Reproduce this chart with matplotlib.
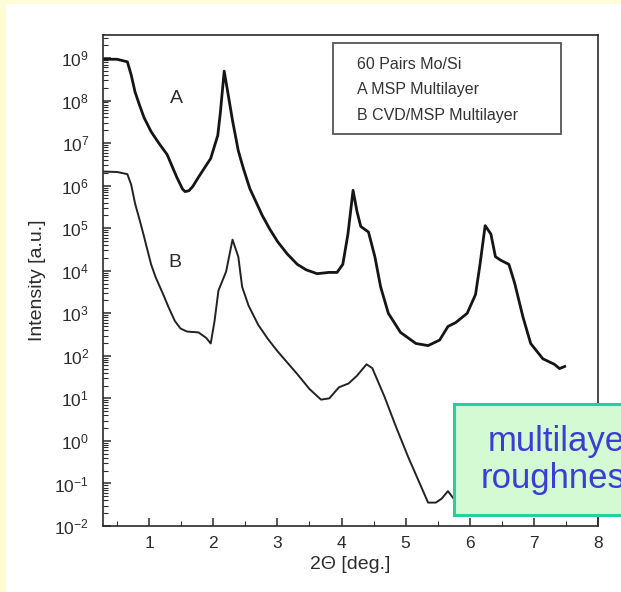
import matplotlib
matplotlib.use("Agg")
import matplotlib.pyplot as plt
from matplotlib.patches import Rectangle
from matplotlib.ticker import LogLocator, FuncFormatter, MultipleLocator, NullFormatter
import numpy as np

plt.rcParams['font.family'] = ['Liberation Sans', 'DejaVu Sans']
plt.rcParams['mathtext.default'] = 'regular'

# curve A: MSP multilayer (2theta in deg, log10 intensity)
a_x = [0.30, 0.50, 0.66, 0.72, 0.78, 0.85, 0.92, 1.03, 1.15, 1.28, 1.43, 1.52, 1.56,
       1.62, 1.68, 1.77, 1.96, 2.07, 2.11, 2.17, 2.23, 2.30, 2.39, 2.47, 2.57, 2.76,
       2.88, 3.00, 3.15, 3.31, 3.45, 3.62, 3.80, 3.93, 4.02, 4.10, 4.18, 4.24, 4.30,
       4.42, 4.52, 4.61, 4.73, 4.92, 5.16, 5.35, 5.53, 5.66, 5.78, 5.96, 6.09, 6.16,
       6.24, 6.33, 6.40, 6.49, 6.61, 6.70, 6.83, 6.95, 7.14, 7.32, 7.40, 7.48]
a_log = [8.97, 8.97, 8.91, 8.60, 8.20, 7.89, 7.60, 7.27, 7.00, 6.73, 6.20, 5.92, 5.86,
         5.88, 5.98, 6.20, 6.64, 7.18, 7.71, 8.69, 8.16, 7.53, 6.82, 6.40, 5.93, 5.31,
         4.98, 4.69, 4.40, 4.15, 4.02, 3.93, 3.96, 3.96, 4.15, 4.86, 5.89, 5.40, 5.04,
         4.91, 4.33, 3.62, 3.00, 2.55, 2.29, 2.24, 2.37, 2.69, 2.78, 3.00, 3.44, 4.15,
         5.06, 4.86, 4.33, 4.24, 4.15, 3.71, 2.91, 2.29, 1.93, 1.80, 1.70, 1.75]

# curve B: CVD/MSP multilayer
b_x = [0.30, 0.50, 0.66, 0.72, 0.78, 0.85, 0.91, 1.03, 1.10, 1.22, 1.30, 1.40, 1.49,
       1.59, 1.77, 1.89, 1.96, 2.02, 2.08, 2.20, 2.30, 2.39, 2.45, 2.55, 2.70, 2.85,
       3.00, 3.31, 3.50, 3.68, 3.81, 3.96, 4.11, 4.24, 4.39, 4.48, 4.67, 4.85, 5.04,
       5.22, 5.35, 5.47, 5.56, 5.66, 5.75]
b_log = [6.33, 6.32, 6.27, 6.02, 5.58, 5.20, 4.86, 4.15, 3.85, 3.44, 3.15, 2.82, 2.64,
         2.57, 2.55, 2.42, 2.29, 2.82, 3.53, 3.98, 4.73, 4.33, 3.62, 3.18, 2.73, 2.40,
         2.11, 1.57, 1.22, 0.97, 1.00, 1.26, 1.35, 1.53, 1.80, 1.71, 1.04, 0.33, -0.38,
         -1.00, -1.45, -1.45, -1.36, -1.18, -1.36]

legend_lines = ["60 Pairs Mo/Si", "A MSP Multilayer", "B CVD/MSP Multilayer"]

W, H = 621, 592
fig = plt.figure(figsize=(W / 100, H / 100), dpi=100, facecolor='#fffdd6')
fig.add_artist(Rectangle((6 / W, 0), 1, 1 - 4 / H, transform=fig.transFigure,
                         facecolor='white', edgecolor='none', zorder=-5))

ax = fig.add_axes([103 / W, 1 - 526 / H, (598 - 103) / W, (526 - 35) / H])
ink = '#2b2b2b'

ax.plot(a_x, 10 ** np.array(a_log), color='#151515', lw=2.0)
ax.plot(b_x, 10 ** np.array(b_log), color='#222222', lw=1.4)

ax.set_yscale('log')
ax.set_xlim(0.28, 8.0)
ax.set_ylim(1e-2, 10 ** 9.54)

ax.yaxis.set_major_locator(LogLocator(base=10, numticks=20))
ax.yaxis.set_minor_locator(LogLocator(base=10, subs=np.arange(2, 10), numticks=20))
ax.yaxis.set_major_formatter(FuncFormatter(lambda v, p: r'$10^{%d}$' % round(np.log10(v))))
ax.yaxis.set_minor_formatter(NullFormatter())
ax.xaxis.set_major_locator(MultipleLocator(1))
ax.xaxis.set_minor_locator(MultipleLocator(0.5))

ax.tick_params(which='both', direction='in', color=ink, labelcolor=ink, labelsize=12.5)
ax.tick_params(which='major', length=6, width=1.1)
ax.tick_params(which='minor', length=3.5, width=0.8)
ax.tick_params(axis='y', which='major', pad=10)
ax.tick_params(axis='x', which='major', pad=7)
for s in ax.spines.values():
    s.set_color(ink)
    s.set_linewidth(1.2)

ax.set_xlabel('2Θ [deg.]', fontsize=14, color=ink, labelpad=4)
ax.set_ylabel('Intensity [a.u.]', fontsize=14, color=ink, labelpad=6)

ax.text(1.43, 10 ** 8.05, 'A', fontsize=14, color=ink, ha='center', va='center')
ax.text(1.40, 10 ** 4.2, 'B', fontsize=14, color=ink, ha='center', va='center')

# legend-like caption box
ax.add_patch(Rectangle((0.4646, 0.798), 0.4606, 0.1857, transform=ax.transAxes,
                       facecolor='white', edgecolor='#555555', lw=1.3))
for i, line in enumerate(legend_lines):
    ax.text(0.513, 0.939 - i * 0.051, line, transform=ax.transAxes, fontsize=11.5,
            color='#333333', va='center', ha='left')

# overlay note box (cut at right edge, as in the source slide)
fig.add_artist(Rectangle((454 / W, 1 - 515 / H), 0.4, (515 - 404) / H,
                         transform=fig.transFigure, facecolor='#d3fad3',
                         edgecolor='#22d0a2', lw=2.2, zorder=5))
fig.text(562 / W, 1 - 460 / H, 'multilayer\nroughness', ha='center', va='center',
         multialignment='center', fontsize=25, color='#3c3cd6', zorder=6,
         linespacing=1.12)

fig.savefig('out.png', dpi=100, facecolor=fig.get_facecolor())
